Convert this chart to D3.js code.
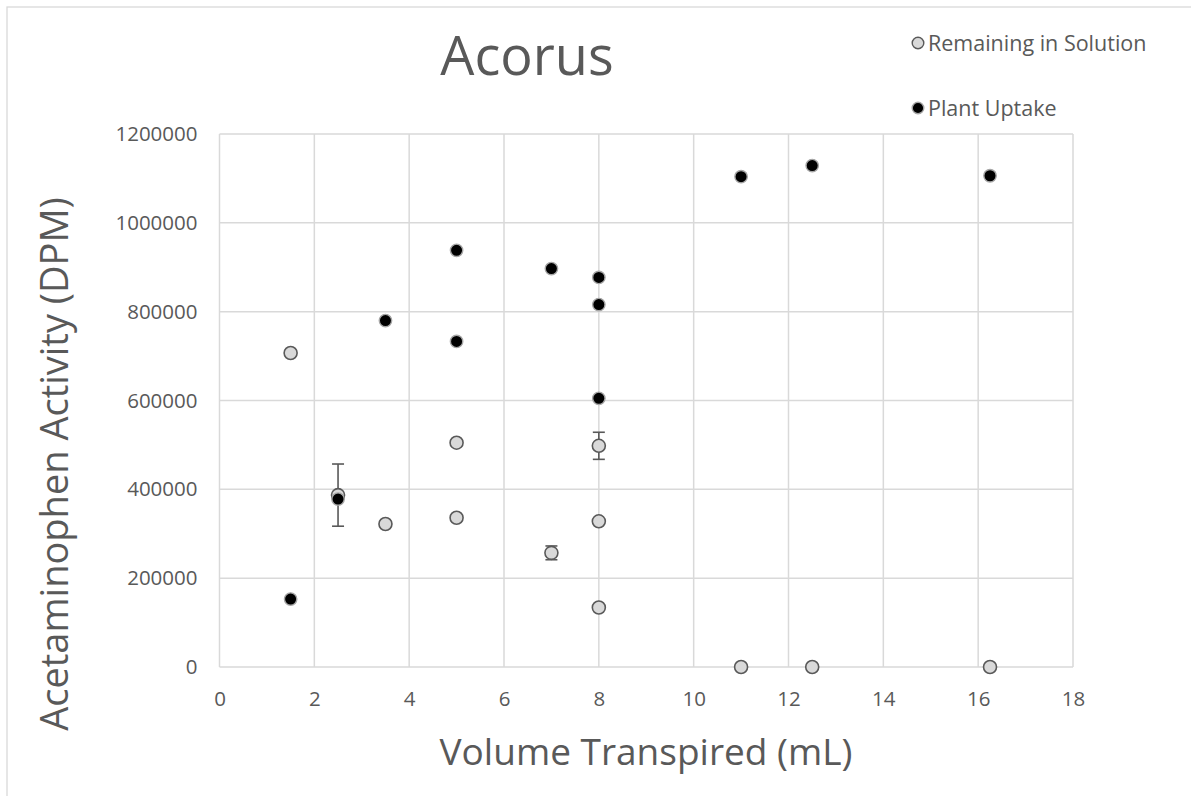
<!DOCTYPE html>
<html>
<head>
<meta charset="utf-8">
<script src="https://cdn.jsdelivr.net/npm/d3@7"></script>
<style>
  html, body { margin: 0; padding: 0; background: #fff; }
  svg { display: block; font-family: "Open Sans", sans-serif; }
</style>
</head>
<body>
<svg width="1191" height="796"></svg>
<script>
// data
const xTicks = [0, 2, 4, 6, 8, 10, 12, 14, 16, 18];
const yTicks = [0, 200000, 400000, 600000, 800000, 1000000, 1200000];

const solutionX = [1.5, 2.5, 3.5, 5, 5, 7, 8, 8, 8, 11, 12.5, 16.25];
const solutionY = [707000, 387000, 322000, 505000, 336000, 257000, 498000, 328000, 134000, 0, 0, 0];
const solutionErr = [0, 70000, 0, 0, 0, 15500, 30500, 0, 0, 0, 0, 0];

const uptakeX = [1.5, 2.5, 3.5, 5, 5, 7, 8, 8, 8, 11, 12.5, 16.25];
const uptakeY = [153000, 378000, 780000, 938000, 733000, 897000, 877000, 816000, 605000, 1104000, 1129000, 1106000];

const svg = d3.select("svg");
const W = 1191, H = 796;
const plot = { left: 219.5, right: 1073, top: 134, bottom: 667 };

const x = d3.scaleLinear().domain([0, 18]).range([plot.left, plot.right]);
const y = d3.scaleLinear().domain([0, 1200000]).range([plot.bottom, plot.top]);

const textCol = "#595959";
const gridCol = "#d9d9d9";

// outer chart border
svg.append("rect")
  .attr("x", 7).attr("y", 7)
  .attr("width", W).attr("height", H)
  .attr("fill", "none")
  .attr("stroke", gridCol)
  .attr("stroke-width", 1.3);

// gridlines
const grid = svg.append("g");
grid.selectAll("line.v")
  .data(xTicks)
  .join("line")
  .attr("x1", (d) => x(d)).attr("x2", (d) => x(d))
  .attr("y1", plot.top).attr("y2", plot.bottom)
  .attr("stroke", gridCol).attr("stroke-width", 1.5);
grid.selectAll("line.h")
  .data(yTicks)
  .join("line")
  .attr("x1", plot.left).attr("x2", plot.right)
  .attr("y1", (d) => y(d)).attr("y2", (d) => y(d))
  .attr("stroke", gridCol).attr("stroke-width", 1.5);

// axes (labels only, Excel style)
const xAxis = svg.append("g")
  .attr("transform", `translate(0,${plot.bottom})`)
  .call(d3.axisBottom(x).tickValues(xTicks).tickSize(0).tickPadding(24).tickFormat(d3.format("d")));
const yAxis = svg.append("g")
  .attr("transform", `translate(${plot.left},0)`)
  .call(d3.axisLeft(y).tickValues(yTicks).tickSize(0).tickPadding(22).tickFormat(d3.format("d")));
[xAxis, yAxis].forEach((a) => {
  a.select(".domain").remove();
  a.selectAll("text")
    .attr("fill", textCol)
    .style("font-family", "'Open Sans', sans-serif")
    .style("font-size", "20.5px");
});

// error bars
const errData = solutionX.map((d, i) => ({ x: d, y: solutionY[i], e: solutionErr[i] })).filter((d) => d.e > 0);
const err = svg.append("g").attr("stroke", "#595959").attr("stroke-width", 1.6);
errData.forEach((d) => {
  err.append("line")
    .attr("x1", x(d.x)).attr("x2", x(d.x))
    .attr("y1", y(d.y - d.e)).attr("y2", y(d.y + d.e));
  [d.y - d.e, d.y + d.e].forEach((v) => {
    err.append("line")
      .attr("x1", x(d.x) - 6).attr("x2", x(d.x) + 6)
      .attr("y1", y(v)).attr("y2", y(v));
  });
});

// Remaining in Solution points
svg.append("g")
  .selectAll("circle")
  .data(solutionX.map((d, i) => ({ x: d, y: solutionY[i] })))
  .join("circle")
  .attr("cx", (d) => x(d.x))
  .attr("cy", (d) => y(d.y))
  .attr("r", 6.5)
  .attr("fill", "#d9d9d9")
  .attr("stroke", "#595959")
  .attr("stroke-width", 1.6);

// Plant Uptake points
svg.append("g")
  .selectAll("circle")
  .data(uptakeX.map((d, i) => ({ x: d, y: uptakeY[i] })))
  .join("circle")
  .attr("cx", (d) => x(d.x))
  .attr("cy", (d) => y(d.y))
  .attr("r", 6.2)
  .attr("fill", "#000")
  .attr("stroke", "#a6a6a6")
  .attr("stroke-width", 1.4);

// title
svg.append("text")
  .attr("x", 527).attr("y", 75)
  .attr("text-anchor", "middle")
  .attr("fill", textCol)
  .style("font-size", "54px")
  .text("Acorus");

// axis titles
svg.append("text")
  .attr("x", 646).attr("y", 765)
  .attr("text-anchor", "middle")
  .attr("fill", textCol)
  .style("font-size", "37px")
  .text("Volume Transpired (mL)");

svg.append("text")
  .attr("transform", "translate(68,464) rotate(-90)")
  .attr("text-anchor", "middle")
  .attr("fill", textCol)
  .style("font-size", "38px")
  .text("Acetaminophen Activity (DPM)");

// legend
const legend = [
  { label: "Remaining in Solution", fill: "#d9d9d9", stroke: "#595959", y: 43 },
  { label: "Plant Uptake", fill: "#000", stroke: "#a6a6a6", y: 108 },
];
const lg = svg.append("g").selectAll("g").data(legend).join("g");
lg.append("circle")
  .attr("cx", 918).attr("cy", (d) => d.y)
  .attr("r", 5.8)
  .attr("fill", (d) => d.fill)
  .attr("stroke", (d) => d.stroke)
  .attr("stroke-width", 1.4);
lg.append("text")
  .attr("x", 928).attr("y", (d) => d.y + 7.5)
  .attr("fill", textCol)
  .style("font-size", "21.5px")
  .text((d) => d.label);
</script>
</body>
</html>
